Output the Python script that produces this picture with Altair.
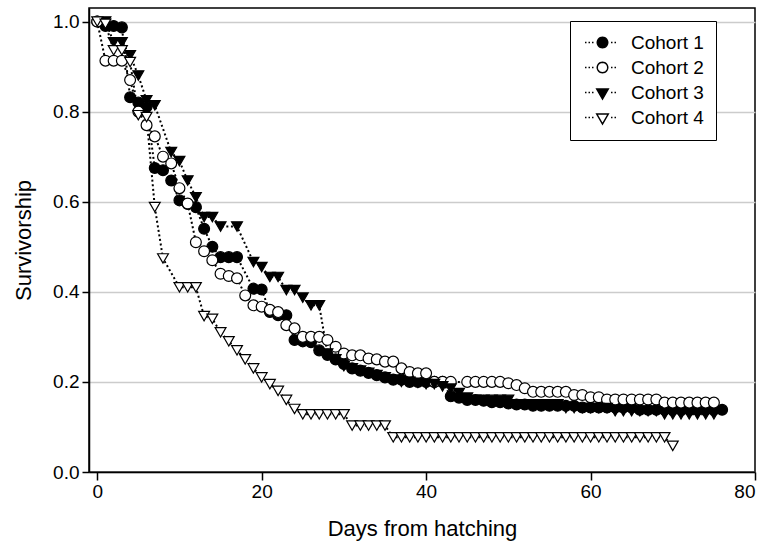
import math
import altair as alt
import pandas as pd

cohort_names = ["Cohort 1", "Cohort 2", "Cohort 3", "Cohort 4"]

# Cohort 1 (filled circles)
c1_days = [0, 1, 2, 3, 4, 5, 6, 7, 8, 9, 10, 11, 12, 13, 14, 15, 16, 17, 19, 20,
           21, 22, 23, 24, 25, 26, 27, 28, 29, 30, 31, 32, 33, 34, 35, 36, 37, 38, 39, 40,
           41, 42, 43, 44, 45, 46, 47, 48, 49, 50, 51, 52, 53, 54, 55, 56, 57, 58, 59, 60,
           61, 62, 63, 64, 65, 66, 67, 68, 69, 70, 71, 72, 73, 74, 75, 76]
c1_vals = [1.0, 0.99, 0.99, 0.987, 0.832, 0.82, 0.81, 0.675, 0.67, 0.647, 0.603, 0.595, 0.588, 0.54, 0.50, 0.477, 0.477, 0.477, 0.407, 0.405,
           0.355, 0.348, 0.348, 0.293, 0.29, 0.288, 0.27, 0.26, 0.25, 0.24, 0.23, 0.225, 0.22, 0.215, 0.21, 0.205, 0.205, 0.2, 0.2, 0.2,
           0.2, 0.2, 0.168, 0.165, 0.16, 0.16, 0.158, 0.155, 0.155, 0.152, 0.15, 0.15, 0.147, 0.147, 0.147, 0.147, 0.147, 0.147, 0.143, 0.143,
           0.143, 0.143, 0.143, 0.143, 0.143, 0.138, 0.138, 0.138, 0.138, 0.138, 0.138, 0.138, 0.138, 0.138, 0.138, 0.138]

# Cohort 2 (open circles)
c2_days = [0, 1, 2, 3, 4, 5, 6, 7, 8, 9, 10, 11, 12, 13, 14, 15, 16, 17, 18, 19,
           20, 21, 22, 23, 24, 25, 26, 27, 28, 29, 30, 31, 32, 33, 34, 35, 36, 37, 38, 39,
           40, 41, 42, 43, 45, 46, 47, 48, 49, 50, 51, 52, 53, 54, 55, 56, 57, 58, 59,
           60, 61, 62, 63, 64, 65, 66, 67, 68, 69, 70, 71, 72, 73, 74, 75]
c2_vals = [1.0, 0.913, 0.913, 0.913, 0.87, 0.80, 0.77, 0.745, 0.70, 0.685, 0.63, 0.596, 0.51, 0.49, 0.47, 0.44, 0.435, 0.43, 0.392, 0.37,
           0.367, 0.36, 0.355, 0.326, 0.319, 0.30, 0.30, 0.30, 0.293, 0.278, 0.263, 0.259, 0.259, 0.252, 0.25, 0.245, 0.245, 0.23, 0.222, 0.219,
           0.219, 0.2, 0.2, 0.2, 0.2, 0.2, 0.2, 0.2, 0.2, 0.197, 0.193, 0.186, 0.178, 0.178, 0.178, 0.178, 0.178, 0.171, 0.171,
           0.166, 0.166, 0.161, 0.161, 0.161, 0.161, 0.161, 0.161, 0.161, 0.154, 0.154, 0.154, 0.154, 0.154, 0.154, 0.154]

# Cohort 3 (filled down-triangles)
c3_days = [1, 2, 3, 4, 5, 6, 7, 9, 10, 11, 12, 13, 14, 15, 17, 19, 20,
           21, 22, 23, 24, 25, 26, 27, 28, 29, 30, 31, 32, 33, 34, 35, 36, 37, 38, 39, 40,
           41, 42, 43, 44, 45, 46, 47, 48, 49, 50, 51, 52, 53, 54, 55, 56, 57, 58, 59, 60,
           61, 62, 63, 64, 65, 66, 67, 68, 69, 70, 71, 72, 73, 74, 75]
c3_vals = [1.0, 0.954, 0.954, 0.925, 0.88, 0.825, 0.814, 0.71, 0.69, 0.647, 0.61, 0.566, 0.566, 0.545, 0.545, 0.466, 0.455,
           0.433, 0.433, 0.404, 0.404, 0.387, 0.37, 0.37, 0.263, 0.25, 0.235, 0.23, 0.225, 0.22, 0.215, 0.21, 0.205, 0.2, 0.2, 0.198, 0.195,
           0.195, 0.19, 0.185, 0.175, 0.165, 0.16, 0.16, 0.16, 0.16, 0.16, 0.15, 0.15, 0.15, 0.15, 0.15, 0.15, 0.142, 0.142, 0.142, 0.142,
           0.142, 0.142, 0.135, 0.135, 0.135, 0.135, 0.135, 0.135, 0.128, 0.128, 0.128, 0.128, 0.128, 0.128, 0.128]

# Cohort 4 (open down-triangles)
c4_days = [0, 1, 2, 3, 4, 5, 6, 7, 8, 10, 11, 12, 13, 14, 15, 16, 17, 18, 19, 20,
           21, 22, 23, 24, 25, 26, 27, 28, 29, 30, 31, 32, 33, 34, 35, 36, 37, 38, 39, 40,
           41, 42, 43, 44, 45, 46, 47, 48, 49, 50, 51, 52, 53, 54, 55, 56, 57, 58, 59, 60,
           61, 62, 63, 64, 65, 66, 67, 68, 69, 70]
c4_vals = [1.0, 0.995, 0.936, 0.936, 0.91, 0.792, 0.788, 0.588, 0.474, 0.41, 0.41, 0.41, 0.346, 0.34, 0.31, 0.29, 0.27, 0.25, 0.23, 0.21,
           0.195, 0.18, 0.16, 0.14, 0.128, 0.128, 0.128, 0.128, 0.128, 0.128, 0.103, 0.103, 0.103, 0.103, 0.103, 0.077, 0.077, 0.077, 0.077, 0.077,
           0.077, 0.077, 0.077, 0.077, 0.077, 0.077, 0.077, 0.077, 0.077, 0.077, 0.077, 0.077, 0.077, 0.077, 0.077, 0.077, 0.077, 0.077, 0.077, 0.077,
           0.077, 0.077, 0.077, 0.077, 0.077, 0.077, 0.077, 0.077, 0.077, 0.058]

x_ticks = [0, 20, 40, 60, 80]
y_ticks = [0.0, 0.2, 0.4, 0.6, 0.8, 1.0]

rows = []
for name, ds, vs in zip(cohort_names, [c1_days, c2_days, c3_days, c4_days],
                        [c1_vals, c2_vals, c3_vals, c4_vals]):
    for d, v in zip(ds, vs):
        rows.append({"cohort": name, "day": d, "surv": v})
df = pd.DataFrame(rows)
df["order"] = df.index

FONT = "Liberation Sans"

x_enc = alt.X("day:Q",
              scale=alt.Scale(domain=[-1, 80], nice=False, zero=False),
              axis=alt.Axis(values=x_ticks, title="Days from hatching", grid=False,
                            labelFontSize=19, titleFontSize=22, titlePadding=17,
                            labelPadding=2, tickSize=8))
y_enc = alt.Y("surv:Q",
              scale=alt.Scale(domain=[0, 1.03], nice=False),
              axis=alt.Axis(values=y_ticks, format=".1f", title="Survivorship", grid=True,
                            gridColor="#cccccc", gridWidth=1.5,
                            labelFontSize=19, titleFontSize=22, titlePadding=17,
                            labelPadding=3, tickSize=7))

fill_colors = ["black", "white", "black", "white"]

lines = alt.Chart(df).mark_line(color="black", strokeDash=[2, 2.6], strokeWidth=2).encode(
    x=x_enc, y=y_enc, detail="cohort:N", order="day:Q")

points = alt.Chart(df).mark_point(size=118, stroke="black", strokeWidth=1.2, opacity=1,
                                  fillOpacity=1).encode(
    x=x_enc, y=y_enc,
    shape=alt.Shape("cohort:N", scale=alt.Scale(domain=cohort_names,
                    range=["circle", "circle", "triangle-down", "triangle-down"]), legend=None),
    fill=alt.Fill("cohort:N", scale=alt.Scale(domain=cohort_names, range=fill_colors), legend=None),
    order="order:Q")


def dots(xs):
    return " ".join(f"M{x:.3f},0 L{x + 0.3:.3f},0" for x in xs)


CX = 2.2  # marker centre within the legend symbol (symbol units, 5 px each)
circle_pts = [(CX + 1.05 * math.cos(2 * math.pi * k / 28), 1.05 * math.sin(2 * math.pi * k / 28)) for k in range(28)]
circle_path = "M" + " L".join(f"{px:.3f},{py:.3f}" for px, py in circle_pts) + " Z"
tri_path = f"M{CX - 1.15:.3f},-0.7 L{CX + 1.15:.3f},-0.7 L{CX:.3f},1.3 Z"
left_dots = [-1.3, -0.6, 0.1]
right_dots = [3.9, 4.6]
legend_circle = dots(left_dots) + " " + circle_path + " " + dots(right_dots)
legend_tri = dots(left_dots) + " " + tri_path + " " + dots(right_dots)

legend_def = alt.Legend(title=None, orient="none", legendX=481, legendY=13,
                        strokeColor="black", fillColor="white", padding=12,
                        symbolSize=100, symbolStrokeWidth=1.5, symbolOpacity=1,
                        labelFontSize=19, labelFont=FONT, labelOffset=30,
                        rowPadding=5, cornerRadius=0)

legend_layer = alt.Chart(df).mark_point(opacity=0, stroke="black", strokeWidth=1.5).encode(
    x=x_enc, y=y_enc,
    shape=alt.Shape("cohort:N", scale=alt.Scale(domain=cohort_names,
                    range=[legend_circle, legend_circle, legend_tri, legend_tri]), legend=legend_def),
    fill=alt.Fill("cohort:N", scale=alt.Scale(domain=cohort_names, range=fill_colors), legend=legend_def))

chart = alt.layer(lines, points, legend_layer).resolve_scale(
    shape="independent", fill="independent"
).properties(
    width=666, height=464,
    padding={"left": 89, "top": 8, "right": 24, "bottom": 80},
    autosize=alt.AutoSizeParams(type="none"),
    background="white",
).configure_view(
    stroke="black", strokeWidth=1.5
).configure_axis(
    domainColor="black", domainWidth=1.5, tickColor="black", tickWidth=1.5,
    labelColor="black", titleColor="black", labelFont=FONT, titleFont=FONT,
    titleFontWeight="normal"
)

chart.save("out.html", embed_options={"renderer": "svg", "actions": False})
